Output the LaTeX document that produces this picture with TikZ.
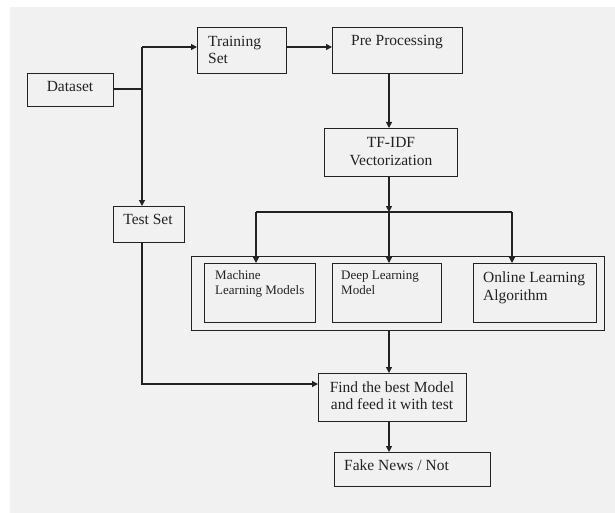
\documentclass[tikz,border=0pt]{standalone}
\usepackage{fontspec}
\setmainfont{Liberation Serif}
\usetikzlibrary{arrows.meta}
\definecolor{bgc}{HTML}{F1F1F1}
\definecolor{ink}{HTML}{222222}
\begin{document}
\begin{tikzpicture}[x=1pt,y=-1pt,
  box/.style={draw=ink, line width=1.2pt, inner sep=0pt, anchor=north west},
  conn/.style={draw=ink, line width=1.2pt},
  arr/.style={conn, -{Triangle[length=6pt,width=6pt]}},
  big/.style={font=\fontsize{15.5}{17}\selectfont, inner sep=0pt, text=ink},
  sml/.style={font=\fontsize{13}{15}\selectfont, inner sep=0pt, text=ink}]
\useasboundingbox (0,0) rectangle (615,513);
\fill[white] (0,0) rectangle (615,513);
\fill[bgc] (10,7) rectangle (615,513);

% boxes
\node[box, minimum width=86pt, minimum height=33pt] (data) at (27,73) {};
\node[box, minimum width=89pt, minimum height=46pt] (train) at (197,27) {};
\node[box, minimum width=130pt, minimum height=46pt] (pre) at (332,27) {};
\node[box, minimum width=133pt, minimum height=48pt] (tf) at (324,128) {};
\node[box, minimum width=71pt, minimum height=36pt] (test) at (113,206) {};
\node[box, minimum width=413pt, minimum height=74pt] (cont) at (191,256) {};
\node[box, minimum width=111pt, minimum height=59pt] (ml) at (204,263) {};
\node[box, minimum width=109pt, minimum height=59pt] (dl) at (332,263) {};
\node[box, minimum width=123pt, minimum height=59pt] (ol) at (473,263) {};
\node[box, minimum width=148pt, minimum height=48pt] (find) at (318,373) {};
\node[box, minimum width=156pt, minimum height=34pt] (fake) at (334,452) {};

% texts
\node[big, anchor=base] (datat) at (70,92) {Dataset};
\node[big, anchor=base west] (traint1) at (208,47) {Training};
\node[big, anchor=base west] (traint2) at (208,64) {Set};
\node[big, anchor=base] (pret) at (397,46) {Pre Processing};
\node[big, anchor=base] (tft1) at (391,148) {TF-IDF};
\node[big, anchor=base] (tft2) at (391,166) {Vectorization};
\node[big, anchor=base] (testt) at (148,224) {Test Set};
\node[sml, anchor=base west] (mlt1) at (215,279) {Machine};
\node[sml, anchor=base west] (mlt2) at (215,294) {Learning Models};
\node[sml, anchor=base west] (dlt1) at (341,279) {Deep Learning};
\node[sml, anchor=base west] (dlt2) at (341,294) {Model};
\node[big, anchor=base west] (olt1) at (483,282) {Online Learning};
\node[big, anchor=base west] (olt2) at (483,300) {Algorithm};
\node[big, anchor=base] (findt1) at (392,392) {Find the best Model};
\node[big, anchor=base] (findt2) at (392,409) {and feed it with test};
\node[big, anchor=base west] (faket) at (344,470) {Fake News / Not};

% junction coordinates
\coordinate (jtop) at (142,47);
\coordinate (cx) at (389,0);
\coordinate (bus) at (389,212);
\coordinate (busL) at (256,212);
\coordinate (busR) at (512,212);
\coordinate (tcorner) at (142,384);

% connectors
\draw[conn] (data.east |- 0,89) -- (142,89);
\draw[arr] (jtop) -- (jtop -| train.west);
\draw[arr] (jtop) -- (jtop |- test.north);
\draw[arr] (jtop -| train.east) -- (jtop -| pre.west);
\draw[arr] (pre.south -| cx) -- (tf.north -| cx);
\draw[arr] (tf.south -| cx) -- (bus);
\draw[conn] (busL) -- (busR);
\draw[arr] (busL) -- (busL |- ml.north);
\draw[arr] (bus) -- (bus |- dl.north);
\draw[arr] (busR) -- (busR |- ol.north);
\draw[arr] (cont.south -| cx) -- (find.north -| cx);
\draw[arr] (test.south -| tcorner) -- (tcorner) -- (tcorner -| find.west);
\draw[arr] (find.south -| cx) -- (fake.north -| cx);
\end{tikzpicture}
\end{document}
